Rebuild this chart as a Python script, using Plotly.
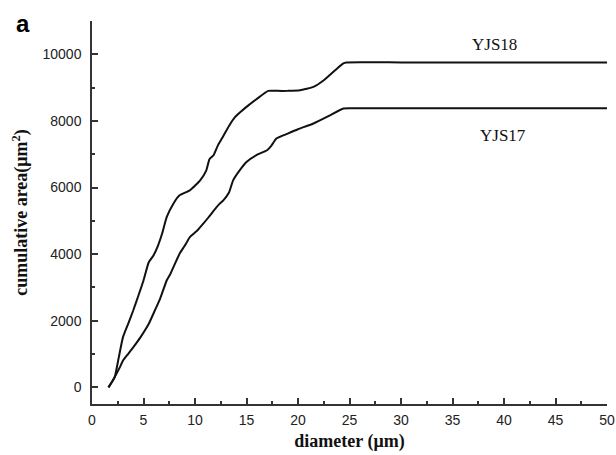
import plotly.graph_objects as go

# YJS18 series
yjs18_x = [1.6, 2.2, 2.6, 3.0, 3.5, 4.0, 4.5, 5.0, 5.5, 5.95, 6.4, 6.8, 7.25, 7.9, 8.5, 9.5,
           10.5, 11.1, 11.4, 11.8, 12.2, 12.7, 13.3, 13.9, 14.5, 15.0, 16.0, 17.1,
           18.0, 19.0, 20.2, 21.5, 22.5, 23.8, 24.4, 24.7, 30, 40, 50]
yjs18_y = [0, 300, 900, 1500, 1900, 2307, 2750, 3209, 3750, 3950, 4250, 4610, 5110, 5515, 5765,
           5915, 6216, 6517, 6850, 6968, 7250, 7519, 7850, 8120, 8290, 8421,
           8660, 8902, 8902, 8902, 8920, 9020, 9220, 9576, 9726, 9756, 9756, 9756, 9756]

# YJS17 series
yjs17_x = [1.6, 2.0, 2.7, 3.0, 3.5, 4.0, 4.7, 5.5, 6.1, 6.6, 7.25, 7.6, 8.5, 9.0, 9.5,
           10.2, 10.8, 11.3, 11.8, 12.4, 12.75, 13.3, 13.7, 14.3, 15.0, 16.0, 17.0, 17.4,
           17.9, 19.0, 20.0, 21.5, 23.0, 24.4, 25, 30, 40, 50]
yjs17_y = [0, 200, 600, 800, 1000, 1200, 1500, 1900, 2307, 2650, 3209, 3400, 4012, 4250,
           4512, 4700, 4914, 5100, 5300, 5515, 5615, 5850, 6216, 6500, 6767, 6980, 7119,
           7250, 7470, 7620, 7750, 7922, 8150, 8373, 8380, 8380, 8380, 8380]

labels = ["YJS18", "YJS17"]
label_x = [39.1, 39.9]
label_y = [10280, 7570]

fig = go.Figure()
for xs, ys, name in [(yjs18_x, yjs18_y, labels[0]), (yjs17_x, yjs17_y, labels[1])]:
    fig.add_trace(go.Scatter(x=xs, y=ys, mode="lines", name=name,
                             line=dict(color="#111111", width=2, shape="spline", smoothing=0.4),
                             showlegend=False))

for t, lx, ly in zip(labels, label_x, label_y):
    fig.add_annotation(x=lx, y=ly, text=t, showarrow=False,
                       font=dict(family="Liberation Serif", size=17, color="#111111"))

fig.add_annotation(xref="paper", yref="paper", x=-0.151, y=0.993, text="<b>a</b>",
                   showarrow=False, xanchor="left", yanchor="middle",
                   font=dict(family="Liberation Sans", size=24, color="#000000"))

axis_common = dict(showline=True, linecolor="#333333", linewidth=1.5, ticks="inside",
                   tickcolor="#333333", tickwidth=1.5, ticklen=6, showgrid=False, zeroline=False,
                   tickformat="d", automargin=False,
                   tickfont=dict(family="Liberation Sans", size=14, color="#222222"))

fig.update_xaxes(range=[0, 50], tick0=0, dtick=5, ticklabelstandoff=2,
                 minor=dict(ticks="inside", ticklen=3, dtick=2.5, tick0=0, tickcolor="#333333", tickwidth=1.5),
                 title=dict(text="<b>diameter (μm)</b>", standoff=8,
                            font=dict(family="Liberation Serif", size=18, color="#111111")),
                 **axis_common)
fig.update_yaxes(range=[-500, 11000], tick0=0, dtick=2000, ticklabelstandoff=6,
                 minor=dict(ticks="inside", ticklen=3, dtick=1000, tick0=0, tickcolor="#333333", tickwidth=1.5),
                 title=dict(text="<b>cumulative area(μm<sup>2</sup>)</b>", standoff=10,
                            font=dict(family="Liberation Serif", size=18, color="#111111")),
                 **axis_common)

fig.update_layout(width=616, height=455, margin=dict(l=92, r=9, t=21, b=51),
                  plot_bgcolor="white", paper_bgcolor="white")

fig.write_html("out.html", config={"displayModeBar": False},
               post_script="document.body.style.margin='0';document.body.style.overflow='hidden';")
